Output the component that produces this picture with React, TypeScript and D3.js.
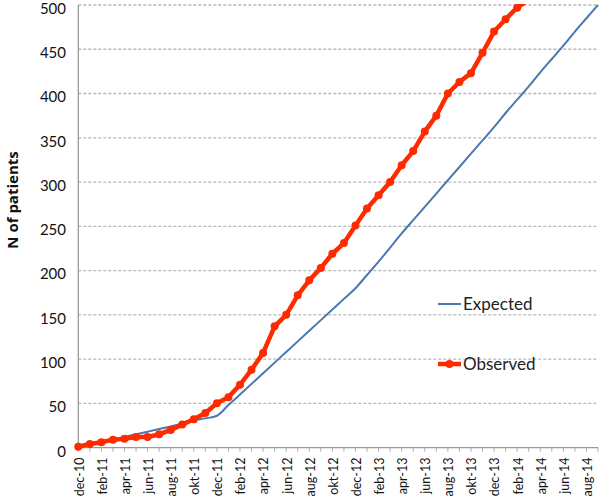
import React, { useRef, useEffect } from "react";
import * as d3 from "d3";

// monthly categories, dec-10 .. sep-14
const months = [
  "dec-10", "jan-11", "feb-11", "mar-11", "apr-11", "maj-11", "jun-11", "jul-11", "aug-11", "sep-11", "okt-11", "nov-11",
  "dec-11", "jan-12", "feb-12", "mar-12", "apr-12", "maj-12", "jun-12", "jul-12", "aug-12", "sep-12", "okt-12", "nov-12",
  "dec-12", "jan-13", "feb-13", "mar-13", "apr-13", "maj-13", "jun-13", "jul-13", "aug-13", "sep-13", "okt-13", "nov-13",
  "dec-13", "jan-14", "feb-14", "mar-14", "apr-14", "maj-14", "jun-14", "jul-14", "aug-14", "sep-14",
];

const tickLabels = [
  "dec-10", "feb-11", "apr-11", "jun-11", "aug-11", "okt-11", "dec-11", "feb-12", "apr-12", "jun-12", "aug-12", "okt-12",
  "dec-12", "feb-13", "apr-13", "jun-13", "aug-13", "okt-13", "dec-13", "feb-14", "apr-14", "jun-14", "aug-14",
];

const expected = [
  2, 4, 6, 9, 12, 15, 18, 21, 24, 27, 31, 33,
  36, 48, 60, 72, 84, 96, 108, 120, 132, 144, 156, 168,
  180, 195, 210, 226, 242, 257, 272, 287, 302, 317, 332, 347,
  362, 378, 393, 408, 424, 439, 454, 470, 485, 500,
];

const observed = [
  1, 4, 6, 9, 10, 12, 12, 15, 20, 26, 32, 39,
  50, 57, 71, 88, 107, 137, 150, 172, 189, 203, 219, 231,
  251, 270, 285, 300, 319, 335, 357, 375, 400, 413, 423, 446,
  470, 484, 497, 506,
];

const yTicks = [0, 50, 100, 150, 200, 250, 300, 350, 400, 450, 500];

const RED = "#ff2a00";
const BLUE = "#4a78b0";

export default function App() {
  const svgRef = useRef<SVGSVGElement>(null);

  useEffect(() => {
    d3.select(svgRef.current).selectAll("*").remove();
    const width = 600;
    const height = 496;
    const svg = d3.select(svgRef.current).attr("width", width).attr("height", height);

    const left = 78.3, right = 598, top = 5, bottom = 447.6;

    const x = d3.scalePoint<string>().domain(months).range([left, right]);
    const y = d3.scaleLinear().domain([0, 500]).range([bottom, top]);

    // gridlines
    svg.append("g")
      .selectAll("line")
      .data(yTicks.filter(d => d > 0))
      .join("line")
      .attr("x1", left).attr("x2", right)
      .attr("y1", d => y(d)).attr("y2", d => y(d))
      .attr("stroke", "#b8b8b8")
      .attr("stroke-width", 1.3)
      .attr("stroke-dasharray", "3,2");

    // y tick labels
    svg.append("g")
      .selectAll("text")
      .data(yTicks)
      .join("text")
      .attr("x", 66)
      .attr("y", d => y(d) + 3.5)
      .attr("dy", "0.36em")
      .attr("text-anchor", "end")
      .attr("font-family", "Lato, 'Open Sans', sans-serif")
      .attr("font-size", 15)
      .attr("fill", "#111")
      .text(d => d);

    // x ticks
    svg.append("g")
      .selectAll("line")
      .data(months)
      .join("line")
      .attr("x1", d => x(d)!).attr("x2", d => x(d)!)
      .attr("y1", bottom).attr("y2", bottom + 4)
      .attr("stroke", "#aaa");

    svg.append("g")
      .selectAll("text")
      .data(tickLabels)
      .join("text")
      .attr("transform", d => `translate(${x(d)! + 1},${bottom + 10}) rotate(-90)`)
      .attr("dy", "0.35em")
      .attr("text-anchor", "end")
      .attr("font-family", "Lato, 'Open Sans', sans-serif")
      .attr("font-size", 12.5)
      .attr("fill", "#111")
      .text(d => d);

    // axis lines
    svg.append("line")
      .attr("x1", left).attr("x2", left).attr("y1", top).attr("y2", bottom)
      .attr("stroke", "#999").attr("stroke-width", 1.3);
    svg.append("line")
      .attr("x1", left).attr("x2", right).attr("y1", bottom).attr("y2", bottom)
      .attr("stroke", "#999").attr("stroke-width", 1.3);

    // y title
    svg.append("text")
      .attr("transform", `translate(18,200) rotate(-90)`)
      .attr("text-anchor", "middle")
      .attr("font-family", "'Open Sans', sans-serif")
      .attr("font-weight", "bold")
      .attr("font-size", 15)
      .attr("fill", "#111")
      .text("N of patients");

    svg.append("defs").append("clipPath").attr("id", "plotclip")
      .append("rect").attr("x", 0).attr("y", top - 1).attr("width", width).attr("height", bottom - top + 10);

    const plot = svg.append("g").attr("clip-path", "url(#plotclip)");

    const blueLine = d3.line<number>()
      .x((d, i) => x(months[i])!)
      .y(d => y(d))
      .curve(d3.curveMonotoneX);
    plot.append("path")
      .attr("d", blueLine(expected))
      .attr("fill", "none")
      .attr("stroke", BLUE)
      .attr("stroke-width", 2);

    const redLine = d3.line<number>()
      .x((d, i) => x(months[i])!)
      .y(d => y(d));
    plot.append("path")
      .attr("d", redLine(observed))
      .attr("fill", "none")
      .attr("stroke", RED)
      .attr("stroke-width", 4.5)
      .attr("stroke-linejoin", "round");

    plot.append("g")
      .selectAll("circle")
      .data(observed.filter(d => d <= 500))
      .join("circle")
      .attr("cx", (d, i) => x(months[i])!)
      .attr("cy", d => y(d))
      .attr("r", 4)
      .attr("fill", RED);

    // legend
    const lg = svg.append("g").attr("font-family", "Lato, 'Open Sans', sans-serif").attr("font-size", 17).attr("fill", "#222");
    lg.append("line").attr("x1", 438).attr("x2", 461).attr("y1", 304).attr("y2", 304)
      .attr("stroke", BLUE).attr("stroke-width", 2);
    lg.append("text").attr("x", 463).attr("y", 310).text("Expected");
    lg.append("line").attr("x1", 438).attr("x2", 461).attr("y1", 364).attr("y2", 364)
      .attr("stroke", RED).attr("stroke-width", 4.5);
    lg.append("circle").attr("cx", 449.5).attr("cy", 364).attr("r", 4).attr("fill", RED);
    lg.append("text").attr("x", 463).attr("y", 370).text("Observed");
  }, []);

  return (
    <div style={{ position: "absolute", left: 0, top: 0 }}>
      <svg ref={svgRef}></svg>
    </div>
  );
}
